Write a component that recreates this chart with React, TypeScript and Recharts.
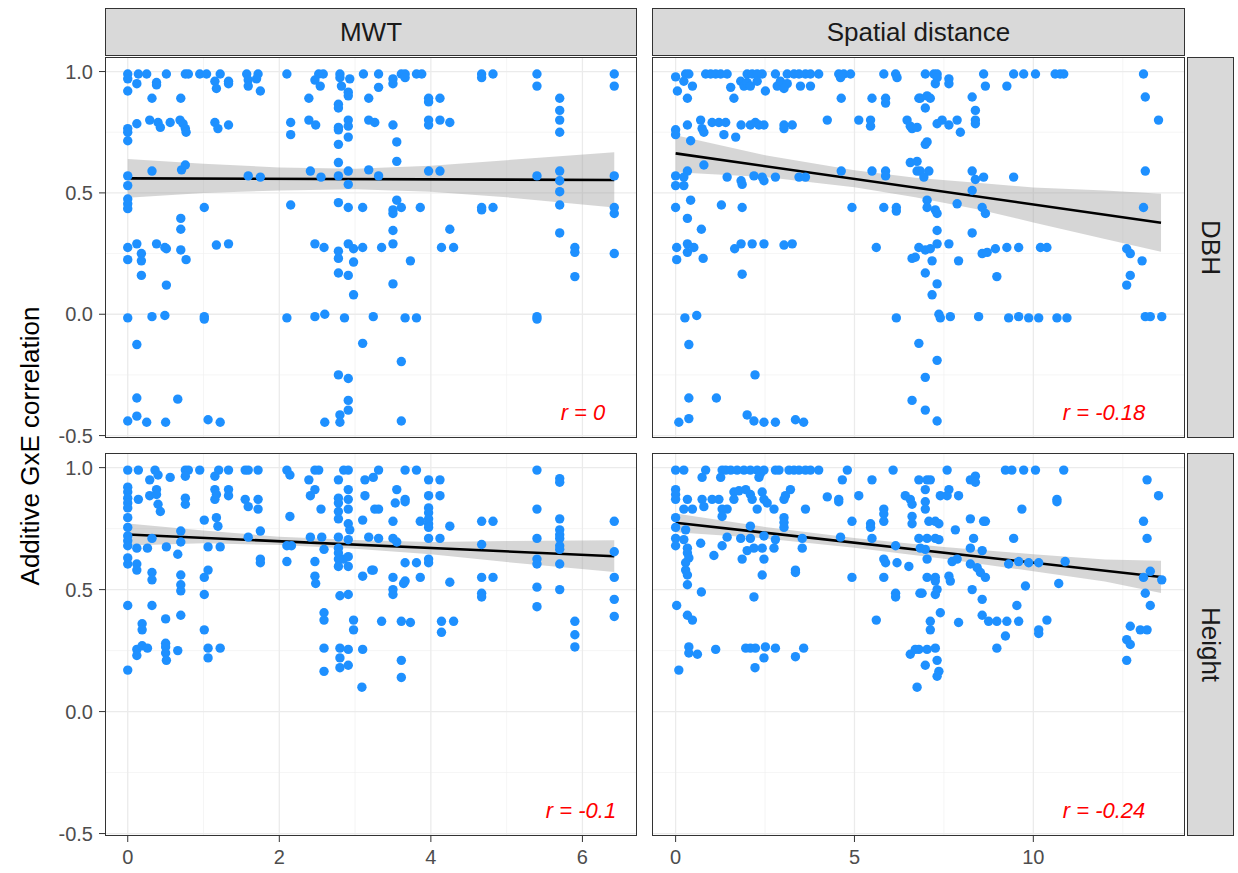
import { ComposedChart, Scatter, Area, Line, XAxis, YAxis, CartesianGrid } from 'recharts';

type Pt = [number, number];
type Band = [number, number, number];

const distances = ['MWT', 'Spatial distance'];
const traits = ['DBH', 'Height'];
const yTicks = [-0.5, 0, 0.5, 1];
const yMinor = [-0.25, 0.25, 0.75];
const mwtTicks = [0, 2, 4, 6];
const mwtMinor = [1, 3, 5];
const spatialTicks = [0, 5, 10];
const spatialMinor = [2.5, 7.5, 12.5];
const rLabels = ['r = 0', 'r = -0.18', 'r = -0.1', 'r = -0.24'];

// DBH vs MWT
const mwtDbh: Pt[] = [
  [0, 0.99], [0.14, 0.99], [0.25, 0.99], [0.51, 0.99], [0.76, 0.99], [0.8, 0.99], [0.95, 0.99], [1.04, 0.99],
  [1.22, 0.99], [1.57, 0.99], [1.72, 0.99], [2.1, 0.99], [2.52, 0.99], [2.58, 0.99], [2.8, 0.99], [3.11, 0.99],
  [3.31, 0.99], [3.61, 0.99], [3.66, 0.99], [3.81, 0.99], [3.88, 0.99], [4.67, 0.99], [4.82, 0.99], [5.4, 0.99], [6.42, 0.99],
  [0, 0.97], [0.12, 0.95], [0.38, 0.955], [1.15, 0.96], [1.33, 0.96], [1.59, 0.965], [1.7, 0.97], [2.47, 0.965],
  [2.8, 0.975], [2.93, 0.97], [0, 0.92], [0.38, 0.945], [1.17, 0.93], [1.33, 0.95], [1.59, 0.94], [1.75, 0.92],
  [2.54, 0.94], [2.82, 0.94], [2.91, 0.915], [0.32, 0.89], [0.7, 0.89], [2.39, 0.89], [2.91, 0.9], [3.18, 0.89],
  [2.78, 0.865], [2.78, 0.85], [0.12, 0.785], [0.29, 0.8], [0.4, 0.79], [0.43, 0.77], [0.56, 0.79], [0.69, 0.8],
  [0.73, 0.785], [0.76, 0.765], [0.77, 0.75], [1.15, 0.79], [1.19, 0.765], [1.33, 0.78], [2.15, 0.79], [2.39, 0.8],
  [2.48, 0.78], [2.78, 0.77], [2.78, 0.76], [2.91, 0.8], [2.91, 0.775], [3.18, 0.8], [3.26, 0.79], [0, 0.765],
  [0, 0.75], [0, 0.715], [2.15, 0.74], [2.91, 0.73], [2.78, 0.7], [2.78, 0.625], [0.32, 0.59], [0.71, 0.595],
  [0.76, 0.615], [2.41, 0.59], [2.91, 0.59], [3.18, 0.595], [0, 0.57], [1.59, 0.57], [1.75, 0.565], [2.55, 0.565],
  [2.78, 0.57], [2.91, 0.535], [0, 0.53], [0, 0.475], [0, 0.455], [0, 0.435], [1.01, 0.44], [2.15, 0.45],
  [2.78, 0.46], [2.91, 0.44], [3.1, 0.44], [0.7, 0.395], [0.7, 0.35], [0, 0.275], [0.12, 0.29], [0.18, 0.25],
  [0.18, 0.22], [0.38, 0.29], [0.49, 0.275], [0.51, 0.27], [0.7, 0.265], [0.77, 0.225], [0, 0.225], [1.17, 0.285],
  [1.33, 0.29], [2.47, 0.29], [2.59, 0.275], [2.78, 0.26], [2.78, 0.23], [2.91, 0.29], [2.98, 0.27], [2.98, 0.215],
  [3.1, 0.275], [0.18, 0.16], [0.51, 0.12], [2.78, 0.17], [2.91, 0.16], [2.98, 0.08], [0, -0.015], [0.32, -0.01],
  [0.49, -0.005], [1.01, -0.01], [1.01, -0.02], [2.1, -0.015], [2.47, -0.01], [2.6, 0], [2.86, -0.015], [3.24, -0.01],
  [0.12, -0.125], [3.1, -0.12], [2.78, -0.25], [2.91, -0.265], [0.12, -0.345], [0.66, -0.35], [2.91, -0.355],
  [2.91, -0.395], [2.8, -0.415], [0.12, -0.42], [0, -0.44], [0.25, -0.445], [0.5, -0.445], [1.06, -0.435],
  [1.22, -0.445], [2.6, -0.445], [2.8, -0.445],
  [3.5, 0.97], [3.5, 0.95], [3.31, 0.935], [3.66, 0.975], [4.67, 0.975], [5.4, 0.94], [6.42, 0.94], [3.97, 0.89],
  [3.97, 0.875], [4.12, 0.89], [5.7, 0.89], [5.7, 0.84], [5.7, 0.8], [3.5, 0.78], [3.97, 0.8], [3.97, 0.78],
  [4.12, 0.8], [4.25, 0.79], [5.7, 0.75], [3.55, 0.71], [3.55, 0.63], [3.97, 0.59], [4.12, 0.59], [3.31, 0.57],
  [5.4, 0.57], [5.7, 0.59], [5.7, 0.55], [5.7, 0.505], [6.42, 0.57], [3.55, 0.47], [3.5, 0.43], [3.5, 0.415],
  [3.61, 0.44], [3.86, 0.44], [4.67, 0.44], [4.67, 0.43], [4.82, 0.44], [5.7, 0.45], [6.42, 0.44], [6.42, 0.415],
  [3.5, 0.345], [4.25, 0.35], [5.7, 0.335], [3.35, 0.275], [3.5, 0.29], [4.14, 0.275], [4.3, 0.275], [5.9, 0.275],
  [5.9, 0.255], [6.42, 0.25], [3.73, 0.22], [3.5, 0.125], [5.9, 0.155], [3.66, -0.015], [3.81, -0.015],
  [5.4, -0.01], [5.4, -0.02], [3.61, -0.195], [3.61, -0.44],
];

// DBH vs spatial distance
const spatialDbh: Pt[] = [
  [0, 0.978], [0.28, 0.99], [0.37, 0.99], [0.84, 0.99], [0.98, 0.99], [1.12, 0.99], [1.26, 0.99], [1.44, 0.99],
  [2.0, 0.99], [2.14, 0.99], [2.28, 0.99], [2.42, 0.99], [2.79, 0.99], [3.12, 0.99], [3.31, 0.99], [3.45, 0.99],
  [3.63, 0.99], [3.77, 0.99], [4.0, 0.99], [4.56, 0.99], [4.7, 0.99], [4.89, 0.99], [5.82, 0.99], [6.15, 0.99],
  [6.98, 0.99], [7.22, 0.99], [7.31, 0.99], [8.61, 0.99], [9.45, 0.99], [9.73, 0.99], [10.06, 0.99], [10.61, 0.99],
  [10.75, 0.99], [10.85, 0.99], [13.08, 0.99],
  [0.05, 0.92], [0.23, 0.96], [0.47, 0.94], [1.54, 0.935], [1.63, 0.89], [1.82, 0.96], [1.91, 0.94], [2.0, 0.955],
  [2.09, 0.94], [2.28, 0.96], [2.51, 0.92], [2.84, 0.94], [2.93, 0.96], [3.12, 0.95], [3.03, 0.93], [3.49, 0.94],
  [3.77, 0.94], [4.61, 0.975], [6.19, 0.975], [0.33, 0.89], [4.63, 0.89], [5.49, 0.89], [5.87, 0.89], [5.87, 0.87],
  [6.8, 0.89], [0.33, 0.78], [0.7, 0.8], [0.74, 0.765], [0.79, 0.75], [1.02, 0.79], [1.21, 0.79], [1.4, 0.79],
  [1.35, 0.74], [1.68, 0.73], [1.83, 0.78], [2.09, 0.78], [2.23, 0.79], [2.33, 0.78], [2.47, 0.78], [3.03, 0.78],
  [3.03, 0.765], [3.26, 0.78], [4.24, 0.8], [5.12, 0.8], [5.45, 0.8], [5.45, 0.775], [6.47, 0.8], [6.56, 0.775],
  [6.61, 0.765], [0, 0.76], [0, 0.74], [0.42, 0.715], [0.79, 0.615], [0.33, 0.59], [6.56, 0.625], [6.75, 0.59],
  [0, 0.57], [0.23, 0.565], [0, 0.53], [0.23, 0.53], [1.44, 0.565], [1.83, 0.55], [1.86, 0.535], [2.19, 0.57],
  [2.42, 0.565], [2.47, 0.55], [2.79, 0.565], [3.45, 0.565], [3.63, 0.565], [4.63, 0.59], [5.49, 0.59], [5.87, 0.59],
  [5.87, 0.57], [0.42, 0.47], [0, 0.44], [1.28, 0.45], [1.86, 0.44], [4.93, 0.44], [5.82, 0.44], [6.17, 0.44],
  [6.17, 0.425], [0.33, 0.395], [0.72, 0.35], [0.03, 0.275], [0.33, 0.29], [0.33, 0.255], [0.51, 0.275],
  [1.65, 0.27], [1.83, 0.29], [2.14, 0.29], [2.47, 0.29], [3.03, 0.285], [3.26, 0.29], [5.61, 0.275], [0.03, 0.225],
  [0.77, 0.23], [6.61, 0.23], [6.8, 0.275], [1.86, 0.165], [0.26, -0.015], [0.59, -0.005], [6.17, -0.015],
  [0.37, -0.125], [6.8, -0.12], [2.22, -0.25], [0.37, -0.345], [1.14, -0.345], [6.61, -0.355], [0.09, -0.445],
  [0.37, -0.43], [2.0, -0.415], [2.19, -0.44], [2.47, -0.445], [2.79, -0.445], [3.35, -0.435], [3.58, -0.445],
  [7.31, 0.975], [7.26, 0.95], [7.64, 0.97], [7.64, 0.95], [8.66, 0.94], [9.26, 0.94], [6.84, 0.89], [7.03, 0.9],
  [7.12, 0.89], [6.98, 0.85], [8.29, 0.895], [8.38, 0.84], [13.13, 0.895], [6.75, 0.77], [7.31, 0.785], [7.45, 0.8],
  [7.64, 0.78], [7.87, 0.8], [7.96, 0.75], [8.38, 0.8], [8.38, 0.785], [13.5, 0.8], [7.03, 0.71], [6.98, 0.7],
  [6.75, 0.63], [6.84, 0.59], [7.08, 0.59], [8.29, 0.59], [8.38, 0.555], [8.61, 0.565], [9.45, 0.565], [13.13, 0.59],
  [6.94, 0.565], [8.29, 0.51], [7.03, 0.47], [7.03, 0.44], [7.26, 0.43], [7.31, 0.415], [7.87, 0.455], [8.57, 0.44],
  [8.66, 0.415], [13.08, 0.44], [7.31, 0.345], [8.29, 0.335], [6.7, 0.235], [6.98, 0.265], [7.12, 0.27], [7.31, 0.29],
  [7.64, 0.29], [8.57, 0.25], [8.71, 0.255], [8.94, 0.27], [9.26, 0.275], [9.59, 0.275], [10.2, 0.275], [10.38, 0.275],
  [7.91, 0.22], [7.17, 0.22], [12.61, 0.27], [12.71, 0.25], [13.04, 0.22], [6.98, 0.17], [7.31, 0.125], [8.98, 0.155],
  [12.71, 0.16], [12.61, 0.12], [7.17, 0.08], [7.36, 0], [7.4, -0.015], [7.68, -0.01], [8.47, -0.01], [9.31, -0.015],
  [9.59, -0.01], [9.87, -0.015], [10.15, -0.015], [10.66, -0.015], [10.94, -0.015], [13.13, -0.01], [13.27, -0.01],
  [13.59, -0.01], [7.31, -0.19], [6.98, -0.26], [6.98, -0.395], [7.31, -0.44],
];

// Height vs MWT
const mwtHeight: Pt[] = [
  [0, 0.99], [0.14, 0.99], [0.36, 0.99], [0.76, 0.99], [0.8, 0.99], [0.95, 0.99], [1.2, 0.99], [1.33, 0.99],
  [1.55, 0.99], [1.59, 0.99], [1.72, 0.99], [2.1, 0.99], [2.47, 0.99], [2.52, 0.99], [2.85, 0.99], [2.91, 0.99],
  [0.29, 0.95], [0.4, 0.97], [0.56, 0.96], [0.76, 0.965], [1.15, 0.965], [2.14, 0.97], [2.39, 0.95], [2.78, 0.95],
  [3.13, 0.95], [0, 0.92], [0, 0.9], [0, 0.875], [0, 0.855], [0, 0.835], [0.14, 0.87], [0.29, 0.885], [0.38, 0.91],
  [0.38, 0.89], [0.4, 0.85], [0.43, 0.82], [0.76, 0.875], [0.76, 0.85], [1.15, 0.91], [1.15, 0.87], [1.17, 0.89],
  [1.33, 0.91], [1.33, 0.885], [1.55, 0.87], [1.59, 0.84], [1.72, 0.87], [1.72, 0.83], [2.41, 0.885], [2.47, 0.91],
  [2.55, 0.83], [2.78, 0.875], [2.78, 0.855], [2.78, 0.82], [2.91, 0.91], [2.91, 0.87], [2.91, 0.83], [3.13, 0.885],
  [3.26, 0.83], [0, 0.795], [0, 0.755], [1.01, 0.785], [1.17, 0.795], [1.19, 0.76], [2.14, 0.8], [2.78, 0.79],
  [2.91, 0.77], [2.93, 0.745], [3.1, 0.785], [0, 0.72], [0, 0.7], [0.32, 0.71], [0.7, 0.74], [0.7, 0.695],
  [1.75, 0.74], [1.59, 0.715], [2.1, 0.68], [2.41, 0.715], [2.56, 0.715], [2.78, 0.715], [2.91, 0.705], [3.18, 0.715],
  [0, 0.68], [0.12, 0.67], [0.26, 0.67], [0.51, 0.675], [1.06, 0.675], [1.22, 0.675], [2.16, 0.68], [2.59, 0.665],
  [2.78, 0.67], [2.78, 0.65], [0.66, 0.645], [0, 0.63], [0, 0.605], [0.12, 0.605], [0.12, 0.58], [1.75, 0.625],
  [1.75, 0.61], [2.1, 0.615], [2.47, 0.615], [2.78, 0.625], [2.85, 0.625], [2.91, 0.635], [2.91, 0.595], [2.78, 0.595],
  [0.32, 0.57], [0.32, 0.54], [0.7, 0.56], [0.7, 0.52], [0.7, 0.495], [1.01, 0.55], [1.06, 0.58], [1.01, 0.48],
  [2.47, 0.555], [2.48, 0.525], [2.8, 0.475], [2.91, 0.48], [3.1, 0.555], [3.22, 0.58], [0, 0.435], [0.32, 0.435],
  [0.7, 0.395], [0.5, 0.38], [0.19, 0.36], [0.19, 0.335], [1.01, 0.335], [2.59, 0.405], [2.59, 0.375], [2.98, 0.375],
  [2.98, 0.335], [0.12, 0.255], [0.12, 0.23], [0.19, 0.27], [0.26, 0.26], [0.5, 0.28], [0.5, 0.265], [0.5, 0.24],
  [0.51, 0.21], [0.66, 0.25], [1.06, 0.26], [1.06, 0.22], [1.22, 0.26], [2.59, 0.26], [2.8, 0.26], [2.8, 0.22],
  [2.91, 0.255], [2.91, 0.19], [2.8, 0.18], [3.1, 0.255], [0, 0.17], [2.59, 0.165], [3.09, 0.1],
  [3.24, 0.96], [3.31, 0.99], [3.66, 0.99], [3.81, 0.99], [3.97, 0.95], [4.12, 0.95], [5.4, 0.99], [5.7, 0.955],
  [5.7, 0.94], [3.55, 0.91], [3.53, 0.855], [3.66, 0.87], [3.66, 0.86], [3.97, 0.885], [4.12, 0.885], [3.31, 0.83],
  [3.97, 0.835], [3.97, 0.815], [5.4, 0.83], [3.5, 0.78], [3.86, 0.78], [3.97, 0.79], [3.97, 0.77], [3.97, 0.755],
  [4.25, 0.76], [4.67, 0.78], [4.82, 0.78], [5.7, 0.79], [6.42, 0.78], [5.7, 0.745], [5.7, 0.725], [5.7, 0.71],
  [5.7, 0.68], [5.7, 0.665], [3.31, 0.71], [3.5, 0.71], [3.55, 0.695], [3.97, 0.71], [4.12, 0.71], [4.67, 0.685],
  [5.4, 0.71], [6.42, 0.655], [3.24, 0.58], [3.66, 0.61], [3.81, 0.61], [3.97, 0.625], [3.97, 0.61], [5.4, 0.625],
  [5.4, 0.605], [5.7, 0.605], [3.5, 0.55], [3.64, 0.525], [3.66, 0.535], [3.5, 0.5], [3.5, 0.48], [3.86, 0.55],
  [4.25, 0.53], [4.67, 0.55], [4.82, 0.55], [4.67, 0.485], [4.67, 0.47], [5.4, 0.51], [5.7, 0.5], [6.42, 0.55],
  [6.42, 0.46], [6.42, 0.39], [5.4, 0.43], [3.35, 0.37], [3.61, 0.37], [3.73, 0.365], [4.14, 0.37], [4.3, 0.37],
  [4.14, 0.325], [5.9, 0.37], [5.9, 0.315], [5.9, 0.265], [3.61, 0.21], [3.61, 0.14],
];

// Height vs spatial distance
const spatialHeight: Pt[] = [
  [0, 0.99], [0.23, 0.99], [0.84, 0.99], [1.3, 0.99], [1.4, 0.99], [1.54, 0.99], [1.72, 0.99], [1.91, 0.99],
  [2.09, 0.99], [2.28, 0.99], [2.47, 0.99], [2.79, 0.99], [2.89, 0.99], [3.17, 0.99], [3.31, 0.99], [3.45, 0.99],
  [3.63, 0.99], [3.77, 0.99], [4.0, 0.99], [4.8, 0.99], [6.08, 0.99], [7.59, 0.99], [9.22, 0.99], [9.4, 0.99],
  [9.73, 0.99], [10.06, 0.99], [10.85, 0.99],
  [0.74, 0.96], [1.26, 0.96], [2.33, 0.96], [2.37, 0.975], [4.66, 0.95], [5.49, 0.95], [6.8, 0.95],
  [0, 0.91], [0, 0.89], [0, 0.87], [0.33, 0.87], [0.23, 0.83], [0.47, 0.83], [0.74, 0.87], [1.02, 0.87],
  [1.21, 0.87], [0.79, 0.84], [1.3, 0.83], [1.44, 0.83], [1.63, 0.9], [1.63, 0.87], [1.77, 0.905], [1.96, 0.91],
  [2.09, 0.89], [2.14, 0.87], [2.28, 0.83], [2.42, 0.9], [2.47, 0.87], [2.56, 0.855], [2.75, 0.83], [3.03, 0.87],
  [3.07, 0.885], [3.21, 0.91], [3.63, 0.83], [4.24, 0.88], [4.56, 0.87], [4.56, 0.86], [5.12, 0.885], [5.82, 0.83],
  [5.82, 0.81], [5.82, 0.78], [6.42, 0.885], [6.56, 0.87], [6.61, 0.85], [0, 0.795], [0, 0.755], [0.28, 0.745],
  [1.3, 0.8], [2.09, 0.76], [3.03, 0.795], [3.03, 0.775], [3.03, 0.755], [4.93, 0.78], [5.45, 0.77], [5.45, 0.755],
  [6.61, 0.8], [6.61, 0.77], [0, 0.71], [0, 0.68], [0.23, 0.705], [0.33, 0.67], [0.7, 0.69], [1.3, 0.68],
  [1.44, 0.715], [1.82, 0.71], [2.09, 0.71], [2.47, 0.72], [2.79, 0.705], [3.54, 0.71], [3.54, 0.67], [4.61, 0.715],
  [5.49, 0.71], [6.15, 0.68], [6.8, 0.71], [0.33, 0.65], [0.37, 0.63], [0.28, 0.61], [1.07, 0.64], [1.86, 0.625],
  [2.0, 0.66], [2.19, 0.67], [2.42, 0.67], [2.47, 0.625], [2.75, 0.67], [5.82, 0.625], [5.87, 0.61], [6.19, 0.61],
  [6.52, 0.595], [0.28, 0.58], [0.33, 0.56], [0.33, 0.52], [2.42, 0.56], [3.35, 0.58], [3.35, 0.57], [4.93, 0.55],
  [5.82, 0.55], [0.72, 0.49], [0.03, 0.435], [2.19, 0.47], [6.15, 0.485], [6.15, 0.47], [6.83, 0.485], [0.33, 0.395],
  [0.47, 0.375], [5.61, 0.375], [0.37, 0.265], [0.37, 0.24], [0.61, 0.235], [1.12, 0.255], [1.96, 0.26], [2.09, 0.26],
  [2.23, 0.26], [2.51, 0.265], [2.79, 0.26], [3.35, 0.225], [3.58, 0.26], [2.47, 0.22], [6.56, 0.235], [6.8, 0.255],
  [0.09, 0.17], [2.22, 0.18], [6.75, 0.1],
  [7.03, 0.95], [7.12, 0.95], [8.24, 0.95], [8.38, 0.965], [8.38, 0.94], [13.18, 0.95], [6.98, 0.91], [7.64, 0.91],
  [7.4, 0.885], [7.59, 0.885], [7.91, 0.885], [6.98, 0.86], [6.98, 0.83], [9.68, 0.83], [10.66, 0.87], [10.66, 0.86],
  [13.5, 0.885], [7.08, 0.78], [7.26, 0.78], [7.36, 0.77], [8.24, 0.79], [8.61, 0.78], [8.66, 0.78], [7.82, 0.745],
  [13.08, 0.78], [13.18, 0.71], [9.45, 0.71], [7.03, 0.71], [7.26, 0.71], [7.36, 0.705], [8.33, 0.71], [6.84, 0.67],
  [6.98, 0.665], [7.03, 0.625], [8.24, 0.67], [8.57, 0.66], [7.73, 0.615], [7.87, 0.625], [8.24, 0.605], [8.43, 0.59],
  [9.31, 0.605], [9.59, 0.615], [9.87, 0.61], [10.15, 0.61], [10.89, 0.615], [7.03, 0.55], [7.26, 0.55], [7.64, 0.555],
  [7.68, 0.535], [8.52, 0.57], [8.66, 0.55], [6.89, 0.485], [7.26, 0.535], [7.31, 0.5], [7.26, 0.48], [8.29, 0.5],
  [8.57, 0.46], [9.78, 0.515], [10.71, 0.525], [13.08, 0.55], [13.27, 0.575], [13.59, 0.54], [13.13, 0.485],
  [13.27, 0.435], [9.54, 0.435], [7.4, 0.405], [7.12, 0.37], [7.12, 0.335], [7.91, 0.365], [8.57, 0.395], [8.75, 0.37],
  [8.98, 0.37], [9.26, 0.37], [9.59, 0.37], [10.38, 0.375], [10.15, 0.335], [10.15, 0.32], [9.22, 0.31], [12.71, 0.35],
  [12.99, 0.335], [13.18, 0.335], [6.7, 0.255], [7.03, 0.255], [7.26, 0.26], [7.31, 0.21], [6.98, 0.19], [7.36, 0.165],
  [7.31, 0.145], [8.98, 0.26], [12.61, 0.295], [12.71, 0.275], [12.61, 0.21],
];

// linear fits (end points) and 95% bands [x, lower, upper]
const mwtDbhFit: Pt[] = [[0, 0.56], [6.42, 0.553]];
const mwtDbhBand: Band[] = [[0, 0.48, 0.64], [1, 0.5, 0.62], [2, 0.51, 0.605], [3, 0.515, 0.6], [4, 0.505, 0.612], [5, 0.482, 0.635], [6.42, 0.44, 0.667]];
const spatialDbhFit: Pt[] = [[0, 0.663], [13.57, 0.377]];
const spatialDbhBand: Band[] = [[0, 0.585, 0.738], [2.5, 0.565, 0.655], [5, 0.523, 0.593], [6.7, 0.482, 0.562], [8.5, 0.431, 0.541], [10, 0.378, 0.522], [12, 0.31, 0.51], [13.57, 0.257, 0.497]];
const mwtHeightFit: Pt[] = [[0, 0.726], [6.42, 0.637]];
const mwtHeightBand: Band[] = [[0, 0.681, 0.771], [1, 0.69, 0.742], [2, 0.683, 0.717], [3, 0.667, 0.703], [4, 0.645, 0.695], [5, 0.613, 0.699], [6.42, 0.572, 0.702]];
const spatialHeightFit: Pt[] = [[0, 0.774], [13.57, 0.552]];
const spatialHeightBand: Band[] = [[0, 0.735, 0.812], [2.5, 0.71, 0.757], [5, 0.672, 0.712], [7.5, 0.627, 0.675], [10, 0.575, 0.645], [12, 0.533, 0.623], [13.57, 0.486, 0.618]];

const FONT = "'Liberation Sans', Arial, sans-serif";
const Y_DOMAIN: [number, number] = [-0.51, 1.06];
const Y_AXIS_W = 60;
const X_AXIS_H = 40;
// room below the upper panels so the lowest y tick label is not clipped
const PAD_B = 14;

const dot = (p: any) => <circle cx={p.cx} cy={p.cy} r={4.7} fill="#1E90FF" />;

function Panel(props: {
  points: Pt[]; fit: Pt[]; band: Band[]; xDomain: [number, number]; xTicks: number[]; xMinor: number[];
  showX: boolean; showY: boolean; left: number; top: number; width: number; height: number;
  rLabel: string; rX: number; rY: number;
}) {
  const { points, fit, band, xDomain, xTicks, xMinor, showX, showY, left, top, width, height } = props;
  const aw = showY ? Y_AXIS_W : 0;
  const ah = showX ? X_AXIS_H : PAD_B;
  const rows = band.map(([x, lo, hi]) => ({ x, band: [lo, hi] }));
  const pts = points.map(([x, y]) => ({ x, y }));
  const fitRows = fit.map(([x, y]) => ({ x, fit: y }));
  const tickStyle = { fill: '#4d4d4d', fontSize: 20, fontFamily: FONT };
  return (
    <>
      <div style={{ position: 'absolute', left: left - aw, top, width: width + aw, height: height + ah }}>
        <ComposedChart
          width={width + aw} height={height + ah} data={rows}
          margin={{ top: 0, right: 0, bottom: showX ? 0 : PAD_B, left: 0 }}
        >
          <CartesianGrid stroke="#f0f0f0" strokeWidth={0.7} horizontalValues={yMinor} verticalValues={xMinor} />
          <CartesianGrid stroke="#ebebeb" strokeWidth={1.3} horizontalValues={yTicks} verticalValues={xTicks} />
          <XAxis
            type="number" dataKey="x" domain={xDomain} ticks={xTicks} allowDataOverflow hide={!showX}
            height={X_AXIS_H} axisLine={false} tickLine={{ stroke: '#333333' }} tickSize={6} tickMargin={8}
            tick={tickStyle} interval={0}
          />
          <YAxis
            type="number" dataKey="y" domain={Y_DOMAIN} ticks={yTicks} allowDataOverflow hide={!showY}
            width={Y_AXIS_W} axisLine={false} tickLine={{ stroke: '#333333' }} tickSize={6} tickMargin={6}
            tick={tickStyle} interval={0} tickFormatter={(v: number) => v.toFixed(1)}
          />
          <Scatter data={pts} shape={dot} isAnimationActive={false} />
          <Area dataKey="band" type="linear" fill="#999999" fillOpacity={0.4} stroke="none" isAnimationActive={false} />
          <Line data={fitRows} dataKey="fit" type="linear" stroke="#000000" strokeWidth={2.6} dot={false} isAnimationActive={false} />
        </ComposedChart>
      </div>
      <div style={{ position: 'absolute', left, top, width, height, border: '1px solid #333333', boxSizing: 'border-box', pointerEvents: 'none' }} />
      <div style={{ position: 'absolute', left: left + props.rX, top: top + props.rY, transform: 'translate(-50%, -50%)', color: '#ff0000', fontStyle: 'italic', fontFamily: FONT, fontSize: 22, whiteSpace: 'nowrap' }}>
        {props.rLabel}
      </div>
    </>
  );
}

const stripStyle = {
  position: 'absolute' as const, background: '#d9d9d9', border: '1px solid #333333', boxSizing: 'border-box' as const,
  display: 'flex', alignItems: 'center', justifyContent: 'center', color: '#1a1a1a', fontFamily: FONT, fontSize: 26,
};

export default function App() {
  const cols = [
    { left: 105, width: 532, domain: [-0.3, 6.72] as [number, number], ticks: mwtTicks, minor: mwtMinor },
    { left: 652, width: 533, domain: [-0.66, 14.24] as [number, number], ticks: spatialTicks, minor: spatialMinor },
  ];
  const rows = [{ top: 57, height: 381 }, { top: 453, height: 383 }];
  const panels = [
    { points: mwtDbh, fit: mwtDbhFit, band: mwtDbhBand, c: 0, r: 0, rX: 478, rY: 356 },
    { points: spatialDbh, fit: spatialDbhFit, band: spatialDbhBand, c: 1, r: 0, rX: 452, rY: 356 },
    { points: mwtHeight, fit: mwtHeightFit, band: mwtHeightBand, c: 0, r: 1, rX: 476, rY: 358 },
    { points: spatialHeight, fit: spatialHeightFit, band: spatialHeightBand, c: 1, r: 1, rX: 452, rY: 358 },
  ];
  return (
    <div style={{ position: 'absolute', left: 0, top: 0, width: 1238, height: 873, background: '#ffffff' }}>
      {panels.map((p, i) => (
        <Panel
          key={i} points={p.points} fit={p.fit} band={p.band}
          xDomain={cols[p.c].domain} xTicks={cols[p.c].ticks} xMinor={cols[p.c].minor}
          showX={p.r === 1} showY={p.c === 0}
          left={cols[p.c].left} top={rows[p.r].top} width={cols[p.c].width} height={rows[p.r].height}
          rLabel={rLabels[i]} rX={p.rX} rY={p.rY}
        />
      ))}
      {cols.map((c, i) => (
        <div key={'s' + i} style={{ ...stripStyle, left: c.left, top: 8, width: c.width, height: 48 }}>{distances[i]}</div>
      ))}
      {rows.map((r, i) => (
        <div key={'t' + i} style={{ ...stripStyle, left: 1187, top: r.top, width: 47, height: r.height }}>
          <span style={{ transform: 'rotate(90deg)', whiteSpace: 'nowrap' }}>{traits[i]}</span>
        </div>
      ))}
      <div style={{ position: 'absolute', left: 30, top: 446, transform: 'translate(-50%, -50%) rotate(-90deg)', fontFamily: FONT, fontSize: 26, color: '#000000', whiteSpace: 'nowrap' }}>
        Additive GxE correlation
      </div>
    </div>
  );
}
